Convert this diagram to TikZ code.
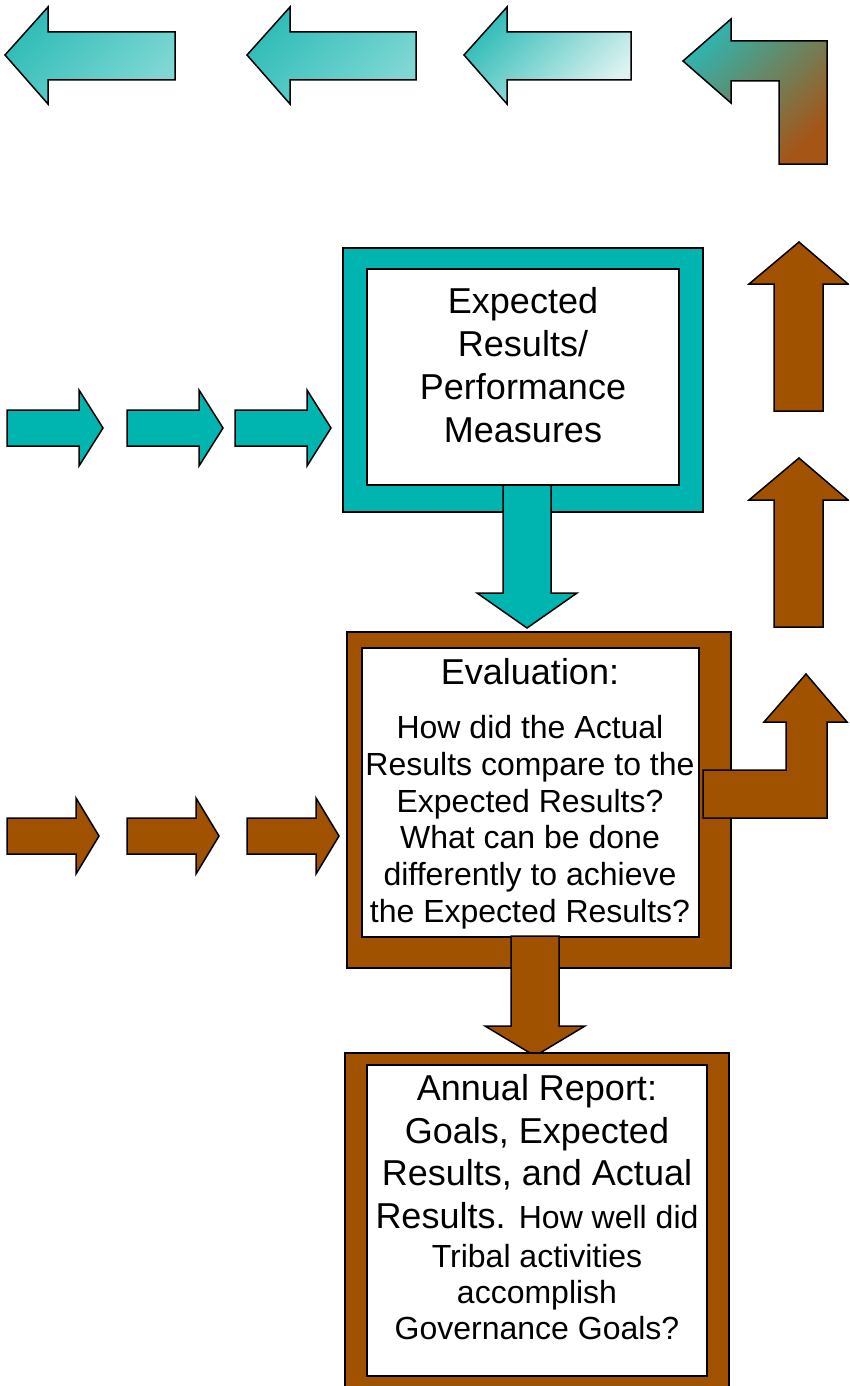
\documentclass[tikz,border=0pt]{standalone}
\usepackage{fontspec}
\setmainfont{Liberation Sans}
\definecolor{teal0}{RGB}{0,181,176}
\definecolor{brown0}{RGB}{160,82,0}
\definecolor{tealA}{RGB}{48,188,183}
\definecolor{tealB}{RGB}{128,216,212}
\definecolor{tealC}{RGB}{222,243,241}
\definecolor{bentA}{RGB}{48,180,175}
\definecolor{bentB}{RGB}{165,85,22}
\tikzset{
  outl/.style={draw=black, line width=1.5pt, line join=miter},
  tealarrow/.style={outl, fill=teal0},
  brownarrow/.style={outl, fill=brown0},
  bigtxt/.style={anchor=base, inner sep=0pt, font=\fontsize{36}{43}\selectfont},
  smalltxt/.style={anchor=base, inner sep=0pt, font=\fontsize{32}{37}\selectfont},
}
\begin{document}
\begin{tikzpicture}[x=1pt,y=-1pt]
\clip (0,0) rectangle (849,1386);
\fill[white] (0,0) rectangle (849,1386);
% top left-pointing arrows
\draw[outl, top color=tealA, bottom color=tealB, shading angle=45]
  (5,55) -- (48,7) -- (48,32) -- (175,32) -- (175,80) -- (48,80) -- (48,104) -- cycle;
\draw[outl, top color=tealA, bottom color=tealB, shading angle=45]
  (247,55) -- (290,7) -- (290,32) -- (416,32) -- (416,80) -- (290,80) -- (290,104) -- cycle;
\draw[outl, top color=tealA, bottom color=tealC, shading angle=45]
  (464,55) -- (507,7) -- (507,32) -- (631,32) -- (631,80) -- (507,80) -- (507,104) -- cycle;
\draw[outl, top color=bentA, bottom color=bentB, shading angle=45]
  (683,61) -- (731,19) -- (731,41) -- (827,41) -- (827,164) -- (779,164) -- (779,81) -- (731,81) -- (731,103) -- cycle;
% teal right arrows
\foreach \dx in {0,120,228}{
  \draw[tealarrow, xshift=\dx]
    (7,410) -- (79,410) -- (79,390) -- (103,428) -- (79,466) -- (79,446) -- (7,446) -- cycle;
}
% brown right arrows
\foreach \dx in {0,120,240}{
  \draw[brownarrow, xshift=\dx]
    (7,818) -- (76,818) -- (76,798) -- (99,836) -- (76,874) -- (76,854) -- (7,854) -- cycle;
}
% brown up arrows
\foreach \dy in {0,216}{
  \draw[brownarrow, yshift=-\dy]
    (799,242) -- (848,284) -- (823,284) -- (823,411) -- (774,411) -- (774,284) -- (749,284) -- cycle;
}
% Expected results box
\draw[outl, fill=teal0] (343,248) rectangle (703,512);
\draw[outl, fill=white] (367,269) rectangle (679,485);
\draw[tealarrow] (503,485) -- (551,485) -- (551,593) -- (577,593) -- (527,628) -- (477,593) -- (503,593) -- cycle;
\node[bigtxt] (er1) at (523,313) {Expected};
\node[bigtxt] (er2) at (523,356) {Results/};
\node[bigtxt] (er3) at (523,399) {Performance};
\node[bigtxt] (er4) at (523,442) {Measures};
% Evaluation box
\draw[outl, fill=brown0] (347,632) rectangle (731,968);
\draw[outl, fill=white] (362,648) rectangle (699,937);
\draw[brownarrow] (703,770) -- (786,770) -- (786,722) -- (764,722) -- (806,674) -- (847,722) -- (827,722) -- (827,818) -- (703,818) -- cycle;
\draw[brownarrow] (511,936) -- (559,936) -- (559,1026) -- (585,1026) -- (535,1056) -- (485,1026) -- (511,1026) -- cycle;
\node[bigtxt] (ev0) at (530,684) {Evaluation:};
\node[smalltxt] (ev1) at (530,738) {How did the Actual};
\node[smalltxt] (ev2) at (530,775) {Results compare to the};
\node[smalltxt] (ev3) at (530,812) {Expected Results?};
\node[smalltxt] (ev4) at (530,848) {What can be done};
\node[smalltxt] (ev5) at (530,885) {differently to achieve};
\node[smalltxt] (ev6) at (530,922) {the Expected Results?};
% Annual report box
\draw[outl, fill=brown0] (345,1053) rectangle (729,1400);
\draw[outl, fill=white] (367,1065) rectangle (707,1376);
\node[bigtxt] (ar1) at (537,1100) {Annual Report:};
\node[bigtxt] (ar2) at (537,1143) {Goals, Expected};
\node[bigtxt] (ar3) at (537,1185) {Results, and Actual};
\node[bigtxt] (ar4) at (537,1228) {Results. {\fontsize{32}{37}\selectfont How well did}};
\node[smalltxt] (ar5) at (537,1267) {Tribal activities};
\node[smalltxt] (ar6) at (537,1303) {accomplish};
\node[smalltxt] (ar7) at (537,1339) {Governance Goals?};
\end{tikzpicture}
\end{document}
